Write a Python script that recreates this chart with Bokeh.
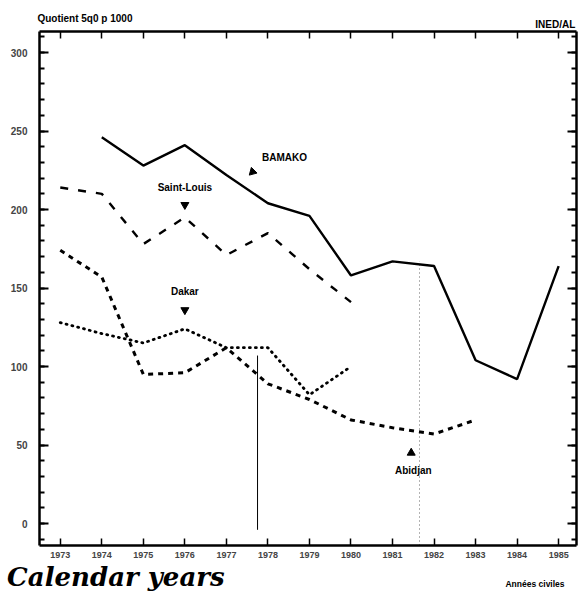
from bokeh.plotting import figure
from bokeh.models import Range1d, LinearAxis, FixedTicker, Label
from bokeh.embed import file_html
from bokeh.resources import INLINE
import math

# ---------------- data ----------------
years = [1973, 1974, 1975, 1976, 1977, 1978, 1979, 1980, 1981, 1982, 1983, 1984, 1985]
year_labels = ["1973", "1974", "1975", "1976", "1977", "1978", "1979", "1980",
               "1981", "1982", "1983", "1984", "1985"]
y_ticks = [0, 50, 100, 150, 200, 250, 300]
y_minor = list(range(-10, 320, 10))

bamako_years = [1974, 1975, 1976, 1977, 1978, 1979, 1980, 1981, 1982, 1983, 1984, 1985]
bamako = [246, 228, 241, 222, 204, 196, 158, 167, 164, 104, 92, 164]

saint_louis_years = [1973, 1974, 1975, 1976, 1977, 1978, 1979, 1980]
saint_louis = [214, 210, 178, 195, 171, 185, 162, 141]

dakar_years = [1973, 1974, 1975, 1976, 1977, 1978, 1979, 1980]
dakar = [128, 121, 115, 124, 112, 112, 82, 100]

abidjan_years = [1973, 1974, 1975, 1976, 1977, 1978, 1979, 1980, 1981, 1982, 1983]
abidjan = [174, 157, 95, 96, 112, 89, 79, 66, 61, 57, 66]

# thin reference lines seen on the scan (year, bottom value, top value)
solid_ref = [1977.75, -4, 107]
dotted_ref = [1981.65, -14, 167]

# series labels (text, x, y) and pointer marks (x, y, marker, angle)
labels = [("BAMAKO", 1978.4, 233), ("Saint-Louis", 1976.0, 214),
          ("Dakar", 1976.0, 148), ("Abidjan", 1981.5, 34)]
pointers = [(1977.63, 224, "inverted_triangle", -math.pi / 4),
            (1976.0, 203, "inverted_triangle", 0.0),
            (1976.0, 136, "inverted_triangle", 0.0),
            (1981.45, 45, "triangle", 0.0)]

FONT = "Liberation Sans"

p = figure(width=580, height=595,
           x_range=Range1d(1972.5, 1985.43), y_range=Range1d(-14, 313.4),
           output_backend="svg", toolbar_location=None,
           min_border_left=39, min_border_right=4, min_border_top=31, min_border_bottom=50,
           outline_line_color=None, background_fill_color="white", border_fill_color="white")
p.xgrid.visible = False
p.ygrid.visible = False

# ---- axes ----
def style_x(ax, show_labels):
    ax.ticker = FixedTicker(ticks=years)
    ax.axis_line_width = 2.5
    ax.axis_line_color = "black"
    ax.major_tick_in = 7
    ax.major_tick_out = 0
    ax.major_tick_line_width = 1.5
    ax.minor_tick_line_color = None
    if show_labels:
        ax.major_label_overrides = {y: l for y, l in zip(years, year_labels)}
        ax.major_label_text_font = FONT
        ax.major_label_text_font_style = "bold"
        ax.major_label_text_font_size = "9px"
        ax.major_label_standoff = 6
    else:
        ax.major_label_text_font_size = "0px"
        ax.major_label_text_color = None
        ax.major_label_standoff = 0

def style_y(ax, show_labels):
    ax.ticker = FixedTicker(ticks=y_ticks, minor_ticks=y_minor)
    ax.axis_line_width = 2.5
    ax.axis_line_color = "black"
    ax.major_tick_in = 9
    ax.major_tick_out = 0
    ax.major_tick_line_width = 2
    ax.minor_tick_in = 5
    ax.minor_tick_out = 0
    ax.minor_tick_line_width = 2
    if show_labels:
        ax.major_label_text_font = FONT
        ax.major_label_text_font_style = "bold"
        ax.major_label_text_font_size = "10px"
        ax.major_label_standoff = 12
    else:
        ax.major_label_text_font_size = "0px"
        ax.major_label_text_color = None
        ax.major_label_standoff = 0

style_x(p.xaxis[0], True)
style_y(p.yaxis[0], True)
top_ax = LinearAxis()
style_x(top_ax, False)
p.add_layout(top_ax, "above")
right_ax = LinearAxis()
style_y(right_ax, False)
p.add_layout(right_ax, "right")

# ---- reference lines ----
p.segment(x0=[solid_ref[0]], y0=[solid_ref[1]], x1=[solid_ref[0]], y1=[solid_ref[2]],
          line_color="black", line_width=1)
p.segment(x0=[dotted_ref[0]], y0=[dotted_ref[1]], x1=[dotted_ref[0]], y1=[dotted_ref[2]],
          line_color="#666666", line_width=1, line_dash="1 3")

# ---- series ----
p.line(bamako_years, bamako, line_color="black", line_width=2.4)
p.line(saint_louis_years, saint_louis, line_color="black", line_width=2.4, line_dash="8 10")
p.line(abidjan_years, abidjan, line_color="black", line_width=3, line_dash="5 5")
p.line(dakar_years, dakar, line_color="black", line_width=2.8, line_dash="1 5", line_cap="round")

# ---- series labels ----
for t, x, y in labels:
    p.add_layout(Label(x=x, y=y, text=t, text_font=FONT, text_font_style="bold",
                       text_font_size="10px", text_align="center", text_baseline="middle",
                       text_color="black"))
for x, y, m, a in pointers:
    p.scatter([x], [y], marker=m, angle=a, size=8, fill_color="black", line_color="black")

# ---- page texts (placed in side panels so they are not clipped to the frame;
#      positions are in data units, so the panel only reserves layout space) ----
p.add_layout(Label(x=1971.72, y=-43.5, text="Calendar years", text_font="DejaVu Serif",
                   text_font_style="bold italic", text_font_size="26px", text_baseline="bottom",
                   text_color="black"), "above")
p.add_layout(Label(x=1972.45, y=318, text="Quotient 5q0 p 1000", text_font=FONT,
                   text_font_style="bold", text_font_size="10px", text_baseline="bottom",
                   text_color="black"), "below")
p.add_layout(Label(x=1985.4, y=314.5, text="INED/AL", text_font=FONT,
                   text_font_style="bold", text_font_size="10px", text_baseline="bottom",
                   text_align="right", text_color="black"), "below")
p.add_layout(Label(x=1983.72, y=-38.5, text="Années civiles", text_font=FONT,
                   text_font_style="bold", text_font_size="8.5px", text_baseline="alphabetic",
                   text_color="black"), "below")

open("out.html", "w").write(file_html(p, INLINE))
